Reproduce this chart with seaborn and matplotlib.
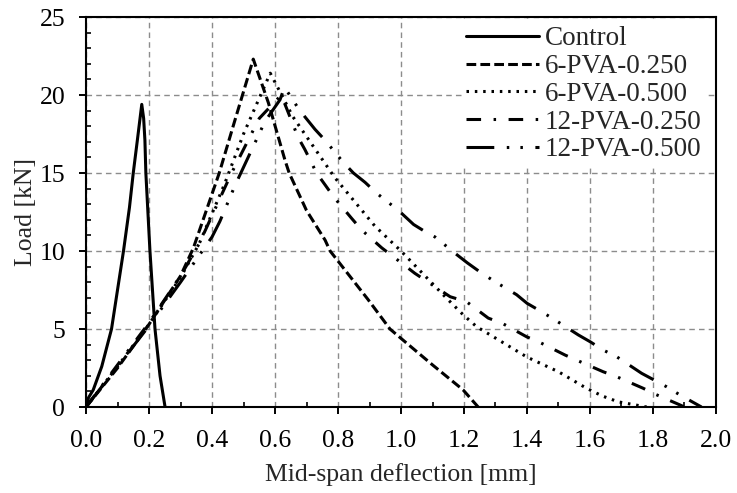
import matplotlib
matplotlib.use("Agg")
import matplotlib.pyplot as plt
import seaborn as sns
import pandas as pd

# ---- data ----
control_x = [0.0, 0.008, 0.023, 0.05, 0.081, 0.10, 0.119, 0.138, 0.150, 0.163, 0.177,
             0.183, 0.187, 0.190, 0.203, 0.219, 0.235, 0.251]
control_y = [0.0, 0.6, 1.1, 2.6, 5.0, 7.5, 10.0, 12.8, 15.0, 17.1, 19.4,
             18.5, 17.1, 15.0, 10.0, 5.0, 2.0, 0.0]

pva6_025_x = [0.0, 0.1, 0.2, 0.3, 0.341, 0.423, 0.473, 0.531, 0.579, 0.632, 0.645,
              0.70, 0.759, 0.775, 0.895, 0.965, 1.0, 1.1, 1.197, 1.245]
pva6_025_y = [0.0, 2.5, 5.3, 8.4, 10.2, 15.0, 18.4, 22.3, 19.5, 15.8, 15.0,
              12.6, 10.7, 10.0, 6.9, 5.0, 4.4, 2.7, 1.1, 0.0]

pva6_050_x = [0.0, 0.1, 0.2, 0.3, 0.36, 0.44, 0.5, 0.55, 0.585, 0.657, 0.79, 0.917,
              1.0, 1.14, 1.198, 1.24, 1.4, 1.5, 1.589, 1.64, 1.69, 1.74, 1.78]
pva6_050_y = [0.0, 2.6, 5.3, 8.3, 10.5, 14.3, 17.5, 19.8, 21.4, 18.6, 14.7, 11.6,
              10.0, 7.07, 5.9, 5.15, 3.2, 2.26, 1.2, 0.7, 0.33, 0.15, 0.0]

pva12_025_x = [0.0, 0.1, 0.2, 0.3, 0.36, 0.462, 0.55, 0.62, 0.673, 0.695, 0.732, 0.764,
               0.785, 0.843, 0.875, 0.939, 0.976, 1.044, 1.156, 1.208, 1.277, 1.322,
               1.399, 1.436, 1.521, 1.558, 1.642, 1.685, 1.769, 1.806, 1.886, 1.9]
pva12_025_y = [0.0, 2.7, 5.4, 8.4, 10.5, 15.0, 18.5, 20.0, 17.3, 16.5, 15.0, 14.1,
               13.5, 12.1, 11.35, 10.2, 9.63, 8.57, 7.07, 6.75, 5.7, 5.36,
               4.5, 4.19, 3.33, 3.0, 2.26, 1.94, 1.2, 0.83, 0.13, 0.0]

pva12_050_x = [0.0, 0.1, 0.2, 0.3, 0.4, 0.425, 0.473, 0.51, 0.568, 0.616, 0.63, 0.669,
               0.695, 0.727, 0.759, 0.816, 0.849, 0.886, 0.923, 0.992, 1.04, 1.08,
               1.108, 1.175, 1.21, 1.25, 1.293, 1.367, 1.40, 1.447, 1.489, 1.563,
               1.6, 1.642, 1.685, 1.764, 1.80, 1.843, 1.886, 1.954]
pva12_050_y = [0.0, 2.6, 5.2, 8.0, 10.9, 11.9, 14.2, 15.8, 18.3, 19.7, 20.5, 19.3,
               18.6, 17.8, 17.1, 15.7, 15.0, 14.4, 13.7, 12.6, 11.7, 11.2,
               10.9, 9.8, 9.25, 8.67, 8.1, 7.2, 6.65, 6.1, 5.58, 4.62,
               4.19, 3.65, 3.22, 2.16, 1.77, 1.30, 0.77, 0.0]

series_names = ["Control", "6-PVA-0.250", "6-PVA-0.500", "12-PVA-0.250", "12-PVA-0.500"]
series_x = [control_x, pva6_025_x, pva6_050_x, pva12_025_x, pva12_050_x]
series_y = [control_y, pva6_025_y, pva6_050_y, pva12_025_y, pva12_050_y]

x_ticks = [0.0, 0.2, 0.4, 0.6, 0.8, 1.0, 1.2, 1.4, 1.6, 1.8, 2.0]
y_ticks = [0, 5, 10, 15, 20, 25]

# ---- styling ----
sns.set_style("ticks")
plt.rcParams["font.family"] = ["Liberation Serif", "DejaVu Serif"]
plt.rcParams["lines.scale_dashes"] = False

line_styles = [
    "-",
    (0, (7.0, 3.0)),
    (0, (1.8, 4.2)),
    (0, (10.5, 9.0, 1.8, 9.0)),
    (0, (20.0, 9.0, 1.8, 8.0, 1.8, 9.0)),
]

fig = plt.figure(figsize=(7.37, 4.93), dpi=100)
ax = fig.add_axes([0.1167, 0.1744, 0.8548, 0.7911])

for name, xs, ys, ls in zip(series_names, series_x, series_y, line_styles):
    df = pd.DataFrame({"x": xs, "y": ys})
    sns.lineplot(data=df, x="x", y="y", ax=ax, color="black", linewidth=2.2,
                 linestyle=ls, sort=False, estimator=None, label=name, legend=False)

ax.set_xlim(0, 2.0)
ax.set_ylim(0, 25)
ax.set_xticks(x_ticks)
ax.set_xticklabels([f"{v:.1f}" for v in x_ticks])
ax.set_yticks(y_ticks)
ax.set_xticks([0.1 + 0.2 * i for i in range(10)], minor=True)
ax.set_yticks([v for v in range(26) if v % 5 != 0], minor=True)

ax.grid(True, which="major", color="#8c8c8c", linestyle=(0, (4.0, 3.0)), linewidth=1.0)
ax.set_axisbelow(True)

for s in ax.spines.values():
    s.set_visible(True)
    s.set_color("black")
    s.set_linewidth(1.5)

ax.tick_params(which="major", direction="out", length=5, width=1.4, labelsize=18.5,
               colors="black")
ax.tick_params(axis="x", which="major", pad=11.5)
ax.tick_params(axis="y", which="major", pad=10)
ax.tick_params(which="minor", direction="in", length=3.6, width=1.4)

ax.set_xlabel("Mid-span deflection [mm]", fontsize=18.5, labelpad=8)
ax.set_ylabel("Load [kN]", fontsize=18.5, labelpad=2)

handles = ax.get_lines()[:5]
leg = ax.legend(handles=handles, labels=series_names, loc="upper right",
                bbox_to_anchor=(0.992, 1.0),
                fontsize=19.5, frameon=True, framealpha=1.0, edgecolor="none",
                facecolor="white", fancybox=False, handlelength=2.7,
                handletextpad=0.2, labelspacing=0.1, borderpad=0.15,
                borderaxespad=0.2)
leg.get_frame().set_linewidth(0)

fig.savefig("out.png", dpi=100)
